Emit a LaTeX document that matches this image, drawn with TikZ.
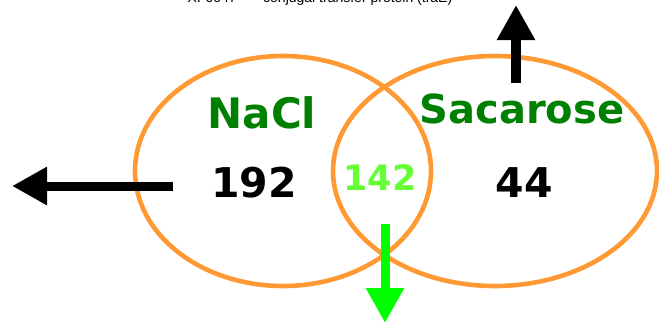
\documentclass[tikz,border=0pt]{standalone}
\usepackage{fontspec}
\setmainfont{DejaVu Sans}
\newfontfamily\capfont{Liberation Sans}
\usetikzlibrary{arrows.meta}
\definecolor{setorange}{HTML}{FF9933}
\definecolor{labgreen}{HTML}{008000}
\definecolor{sharedgreen}{HTML}{66FF33}
\definecolor{arrgreen}{HTML}{00FF00}
\tikzset{
  setring/.style={draw=setorange, line width=4.6pt},
  setname/.style={text=labgreen, anchor=base, inner sep=0pt, font=\bfseries\fontsize{42}{42}\selectfont},
  count/.style={anchor=base, inner sep=0pt, font=\bfseries\fontsize{41}{41}\selectfont},
  bigarrow/.style={line width=9pt, -{Triangle[length=35pt,width=36pt]}},
}
\begin{document}
\begin{tikzpicture}[x=1pt,y=-1pt]
  \useasboundingbox (0,0) rectangle (659,325);
  % title line, running off the top edge
  \node[anchor=base, inner sep=0pt, font=\capfont\fontsize{14}{14}\selectfont] (title) at (320,2.5) {XF0047 \,—\, conjugal transfer protein (traE)};
  % the two sets
  \draw[setring] (283,171) ellipse [x radius=148, y radius=115];
  \draw[setring] (495,171) ellipse [x radius=162, y radius=115];
  % set names
  \node[setname] (nacl) at (262,128) {NaCl};
  \node[setname, font=\bfseries\fontsize{40}{40}\selectfont] (sac) at (522,123) {Sacarose};
  % counts
  \node[count] (only1) at (254,197) {192};
  \node[count, text=sharedgreen, font=\bfseries\fontsize{35}{35}\selectfont] (both) at (380,190) {142};
  \node[count] (only2) at (524,197) {44};
  % arrows
  \coordinate (l0) at (173,186);
  \coordinate (l1) at (12,186);
  \coordinate (t0) at (516,83);
  \coordinate (t1) at (516,5);
  \coordinate (g0) at (385,224);
  \coordinate (g1) at (385,323);
  \draw[bigarrow] (l0) -- (l1);
  \draw[bigarrow, line width=10pt] (t0) -- (t1);
  \draw[bigarrow, draw=arrgreen, fill=arrgreen] (g0) -- (g1);
\end{tikzpicture}
\end{document}
